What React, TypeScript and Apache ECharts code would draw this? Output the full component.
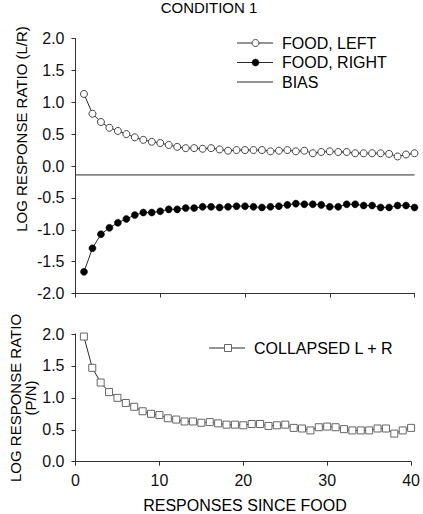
import React, { useEffect, useRef } from "react";
import * as echarts from "echarts";

const responses = [1, 2, 3, 4, 5, 6, 7, 8, 9, 10, 11, 12, 13, 14, 15, 16, 17, 18, 19, 20, 21, 22, 23, 24, 25, 26, 27, 28, 29, 30, 31, 32, 33, 34, 35, 36, 37, 38, 39, 40];

const foodLeft = [1.13, 0.82, 0.69, 0.6, 0.55, 0.5, 0.45, 0.41, 0.38, 0.36, 0.33, 0.3, 0.28, 0.28, 0.27, 0.28, 0.26, 0.24, 0.25, 0.25, 0.25, 0.25, 0.23, 0.24, 0.25, 0.23, 0.24, 0.2, 0.22, 0.23, 0.22, 0.22, 0.2, 0.2, 0.2, 0.2, 0.19, 0.15, 0.18, 0.2];

const foodRight = [-1.66, -1.29, -1.07, -0.97, -0.89, -0.83, -0.77, -0.73, -0.73, -0.71, -0.68, -0.68, -0.66, -0.66, -0.64, -0.64, -0.65, -0.64, -0.63, -0.63, -0.64, -0.65, -0.64, -0.63, -0.61, -0.59, -0.6, -0.6, -0.61, -0.64, -0.64, -0.6, -0.6, -0.62, -0.62, -0.65, -0.65, -0.62, -0.62, -0.65];

const collapsed = [1.96, 1.47, 1.24, 1.09, 1.0, 0.92, 0.86, 0.79, 0.75, 0.73, 0.68, 0.66, 0.63, 0.63, 0.61, 0.62, 0.6, 0.58, 0.58, 0.57, 0.59, 0.59, 0.56, 0.57, 0.58, 0.53, 0.52, 0.49, 0.54, 0.55, 0.54, 0.51, 0.49, 0.49, 0.49, 0.52, 0.52, 0.44, 0.49, 0.53];

const biasLevel = -0.14;
const biasX = [0, 40];

const xRange = [0, 40];
const topYRange = [-2, 2];
const bottomYRange = [0, 2];

const title = "CONDITION 1";
const xTitle = "RESPONSES SINCE FOOD";
const topYTitle = "LOG RESPONSE RATIO (L/R)";
const bottomYTitle1 = "LOG RESPONSE RATIO";
const bottomYTitle2 = "(P/N)";
const legendTop = ["FOOD, LEFT", "FOOD, RIGHT", "BIAS"];
const legendBottom = ["COLLAPSED L + R"];

export default function App() {
  const ref = useRef<HTMLDivElement>(null);
  useEffect(() => {
    if (!ref.current) return;
    const chart = echarts.init(ref.current, null, { renderer: "svg" });
    const font = "'Liberation Sans', Arial, Helvetica, sans-serif";
    const axisColor = "#333333";
    const lineColor = "#2a2a2a";
    const pair = (ys: number[]) => responses.map((x, i) => [x, ys[i]]);

    const axisLine = { show: true, onZero: false, lineStyle: { color: axisColor, width: 1 } };
    const axisTick = { show: true, length: 4, lineStyle: { color: axisColor, width: 1 } };
    const yLabel = {
      show: true,
      fontSize: 16,
      color: "#111",
      fontFamily: font,
      margin: 11,
      formatter: (v: number) => v.toFixed(1),
    };

    const legendRow = (y: number, label: string, marker: any) => {
      const els: any[] = [
        { type: "line", shape: { x1: 237, y1: y, x2: 273, y2: y }, style: { stroke: lineColor, lineWidth: 1 } },
      ];
      if (marker) els.push(marker);
      els.push({
        type: "text",
        x: 282,
        y: y,
        style: { text: label, fontSize: 16, fontFamily: font, fill: "#000", align: "left", verticalAlign: "middle" },
      });
      return els;
    };

    chart.setOption({
      animation: false,
      grid: [
        { left: 75.5, top: 38.5, width: 339, height: 255 },
        { left: 75.5, top: 334, width: 339, height: 127.7 },
      ],
      xAxis: [
        {
          gridIndex: 0,
          type: "value",
          min: xRange[0],
          max: xRange[1],
          interval: 10,
          axisLine,
          axisTick,
          axisLabel: { show: false },
          splitLine: { show: false },
        },
        {
          gridIndex: 1,
          type: "value",
          min: xRange[0],
          max: xRange[1],
          interval: 10,
          axisLine,
          axisTick,
          axisLabel: { show: true, fontSize: 16, color: "#111", fontFamily: font, margin: 11 },
          splitLine: { show: false },
        },
      ],
      yAxis: [
        {
          gridIndex: 0,
          type: "value",
          min: topYRange[0],
          max: topYRange[1],
          interval: 0.5,
          axisLine,
          axisTick,
          axisLabel: yLabel,
          splitLine: { show: false },
        },
        {
          gridIndex: 1,
          type: "value",
          min: bottomYRange[0],
          max: bottomYRange[1],
          interval: 0.5,
          axisLine,
          axisTick,
          axisLabel: yLabel,
          splitLine: { show: false },
        },
      ],
      series: [
        {
          name: legendTop[0],
          type: "line",
          xAxisIndex: 0,
          yAxisIndex: 0,
          data: pair(foodLeft),
          symbol: "circle",
          symbolSize: 7,
          lineStyle: { color: lineColor, width: 1 },
          itemStyle: { color: "#fff", borderColor: "#444", borderWidth: 1 },
          z: 3,
        },
        {
          name: legendTop[1],
          type: "line",
          xAxisIndex: 0,
          yAxisIndex: 0,
          data: pair(foodRight),
          symbol: "circle",
          symbolSize: 7,
          lineStyle: { color: lineColor, width: 1 },
          itemStyle: { color: "#000", borderColor: "#000", borderWidth: 0.5 },
          z: 3,
        },
        {
          name: legendTop[2],
          type: "line",
          xAxisIndex: 0,
          yAxisIndex: 0,
          data: biasX.map((x) => [x, biasLevel]),
          symbol: "none",
          lineStyle: { color: lineColor, width: 1 },
          z: 2,
        },
        {
          name: legendBottom[0],
          type: "line",
          xAxisIndex: 1,
          yAxisIndex: 1,
          data: pair(collapsed),
          symbol: "rect",
          symbolSize: 7,
          lineStyle: { color: lineColor, width: 1 },
          itemStyle: { color: "#fff", borderColor: "#666", borderWidth: 1 },
          z: 3,
        },
      ],
      graphic: [
        {
          type: "text",
          x: 209,
          y: 7,
          style: { text: title, fontSize: 15, fontFamily: font, fill: "#000", align: "center", verticalAlign: "middle" },
        },
        {
          type: "text",
          x: 21.5,
          y: 129,
          rotation: Math.PI / 2,
          style: { text: topYTitle, fontSize: 15, fontFamily: font, fill: "#000", align: "center", verticalAlign: "middle" },
        },
        {
          type: "text",
          x: 15,
          y: 398,
          rotation: Math.PI / 2,
          style: { text: bottomYTitle1, fontSize: 15, fontFamily: font, fill: "#000", align: "center", verticalAlign: "middle" },
        },
        {
          type: "text",
          x: 30,
          y: 398,
          rotation: Math.PI / 2,
          style: { text: bottomYTitle2, fontSize: 15, fontFamily: font, fill: "#000", align: "center", verticalAlign: "middle" },
        },
        {
          type: "text",
          x: 245,
          y: 505,
          style: { text: xTitle, fontSize: 16, fontFamily: font, fill: "#000", align: "center", verticalAlign: "middle" },
        },
        ...legendRow(43, legendTop[0], {
          type: "circle",
          shape: { cx: 255.5, cy: 43, r: 3.5 },
          style: { fill: "#fff", stroke: "#444", lineWidth: 1 },
        }),
        ...legendRow(62.5, legendTop[1], {
          type: "circle",
          shape: { cx: 255.5, cy: 62.5, r: 3.5 },
          style: { fill: "#000", stroke: "#000", lineWidth: 0.5 },
        }),
        ...legendRow(82, legendTop[2], null),
        { type: "line", shape: { x1: 209, y1: 348, x2: 245, y2: 348 }, style: { stroke: lineColor, lineWidth: 1 } },
        {
          type: "rect",
          shape: { x: 224.5, y: 344.5, width: 7, height: 7 },
          style: { fill: "#fff", stroke: "#666", lineWidth: 1 },
        },
        {
          type: "text",
          x: 254,
          y: 348,
          style: { text: legendBottom[0], fontSize: 16, fontFamily: font, fill: "#000", align: "left", verticalAlign: "middle" },
        },
      ],
    });
    return () => chart.dispose();
  }, []);

  return (
    <div
      ref={ref}
      style={{ position: "fixed", left: 0, top: 0, width: 423, height: 514, background: "#fff" }}
    />
  );
}
